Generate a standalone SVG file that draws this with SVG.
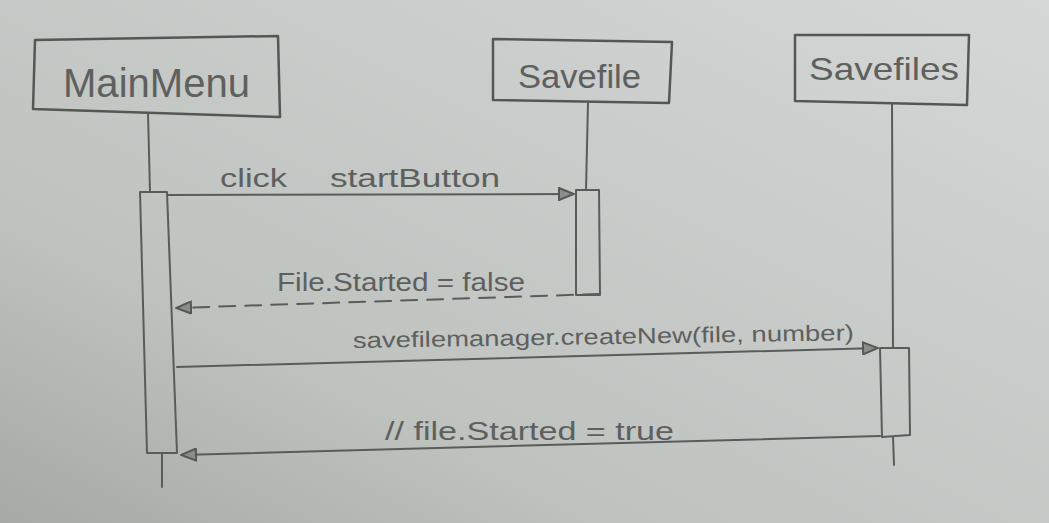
<svg xmlns="http://www.w3.org/2000/svg" width="1049" height="523" viewBox="0 0 1049 523">
<defs>
<linearGradient id="paper" x1="0" y1="1" x2="1" y2="0">
<stop offset="0" stop-color="#a5aaa7"/>
<stop offset="0.3" stop-color="#bfc3c0"/>
<stop offset="0.7" stop-color="#cbcecc"/>
<stop offset="1" stop-color="#d5d8d7"/>
</linearGradient>
<marker id="arr" viewBox="0 0 16 14" refX="16" refY="7" markerWidth="16" markerHeight="14" markerUnits="userSpaceOnUse" orient="auto">
<path d="M1,1 L16,7 L1,13 Z" fill="#8a8d8a" stroke="#555855" stroke-width="2"/>
</marker>
<style>
.ln{fill:none;stroke:#5a5c5a;stroke-width:2;stroke-linejoin:round;stroke-linecap:round}
.box{fill:none;stroke:#555755;stroke-width:2.5;stroke-linejoin:round}
.t{font-family:"Liberation Sans","DejaVu Sans",sans-serif;fill:#5e605e}
</style>
</defs>
<rect width="1049" height="523" fill="url(#paper)"/>
<g id="MainMenu">
<polygon class="box" points="35,40 278,36 280,117 33,109"/>
<text class="t" x="63" y="97" font-size="40" textLength="187" lengthAdjust="spacingAndGlyphs">MainMenu</text>
<path class="ln" d="M148,113 L150,192"/>
<polygon class="ln" points="140,192 167,192 177,453 147,453"/>
<path class="ln" d="M162,453 L162,487"/>
</g>
<g id="Savefile">
<polygon class="box" points="493,39 672,42 669,103 493,100"/>
<text class="t" x="518" y="88" font-size="34" textLength="123" lengthAdjust="spacingAndGlyphs">Savefile</text>
<path class="ln" d="M588,102 L586,190"/>
<polygon class="ln" points="576,190 599,190 600,295 576,295"/>
</g>
<g id="Savefiles">
<polygon class="box" points="795,35 969,35 967,105 795,101"/>
<text class="t" x="809" y="80" font-size="32" textLength="150" lengthAdjust="spacingAndGlyphs">Savefiles</text>
<path class="ln" d="M892,103 L893,348"/>
<polygon class="ln" points="880,348 909,348 910,435 882,437"/>
<path class="ln" d="M893,437 L894,465"/>
</g>
<g id="connectors">
<path class="ln" d="M167,195 L574,194" marker-end="url(#arr)"/>
<text class="t" y="187" font-size="26"><tspan x="220" textLength="67" lengthAdjust="spacingAndGlyphs">click</tspan><tspan x="330" textLength="170" lengthAdjust="spacingAndGlyphs">startButton</tspan></text>
<path class="ln" d="M599,294 L176,308" stroke-dasharray="16,10" marker-end="url(#arr)"/>
<text class="t" x="277" y="291" font-size="25" textLength="248" lengthAdjust="spacingAndGlyphs">File.Started = false</text>
<path class="ln" d="M177,367 L878,348" marker-end="url(#arr)"/>
<text class="t" x="353" y="348" font-size="22" textLength="501" lengthAdjust="spacingAndGlyphs" transform="rotate(-0.9 353 348)">savefilemanager.createNew(file, number)</text>
<path class="ln" d="M880,436 L181,455" marker-end="url(#arr)"/>
<text class="t" x="385" y="440" font-size="26" textLength="289" lengthAdjust="spacingAndGlyphs">// file.Started = true</text>
</g>
</svg>
